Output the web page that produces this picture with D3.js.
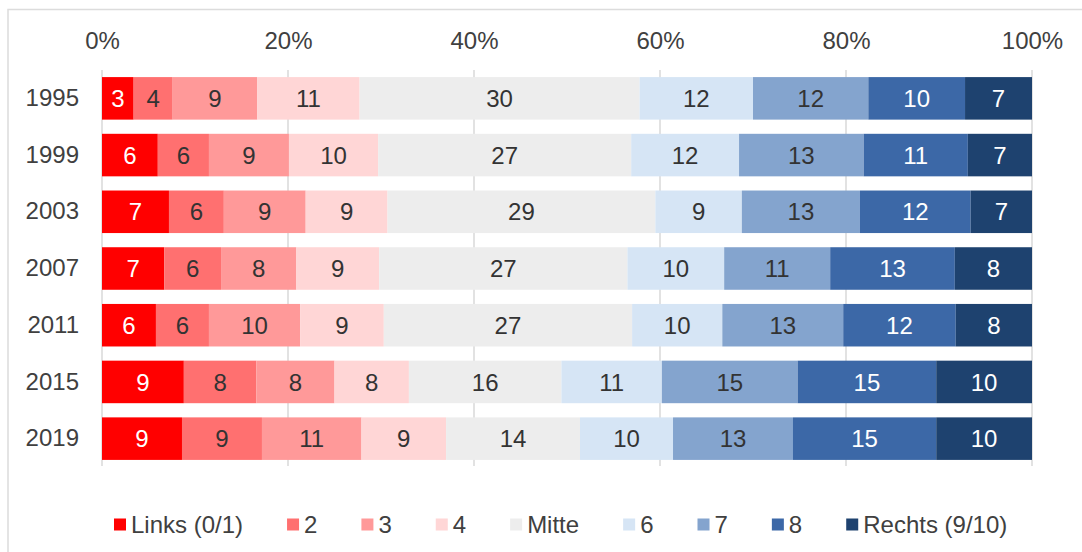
<!DOCTYPE html>
<html>
<head>
<meta charset="utf-8">
<script src="https://cdn.jsdelivr.net/npm/d3@7"></script>
<style>
  html, body { margin: 0; padding: 0; background: #fff; }
  svg { display: block; }
</style>
</head>
<body>
<svg id="chart" width="1082" height="552"></svg>
<script>
// categories (left to right in each bar)
const categories = ['Links (0/1)', '2', '3', '4', 'Mitte', '6', '7', '8', 'Rechts (9/10)'];
const years = ['1995', '1999', '2003', '2007', '2011', '2015', '2019'];

// shares in percent (labels are the rounded values)
const v1995 = [3.4, 4.2, 9.1, 11.0, 30.1, 12.2, 12.4, 10.4, 7.2];
const v1999 = [6.0, 5.5, 8.6, 9.6, 27.2, 11.6, 13.4, 11.2, 6.9];
const v2003 = [7.2, 5.9, 8.8, 8.8, 28.8, 9.3, 12.7, 11.9, 6.6];
const v2007 = [6.7, 6.1, 8.1, 8.9, 26.7, 10.4, 11.4, 13.4, 8.3];
const v2011 = [5.8, 5.7, 9.8, 9.0, 26.7, 9.7, 13.0, 12.1, 8.2];
const v2015 = [8.8, 7.8, 8.4, 8.0, 16.4, 10.8, 14.6, 14.9, 10.3];
const v2019 = [8.6, 8.6, 10.7, 9.1, 14.4, 10.0, 12.9, 15.4, 10.3];
const seriesValues = [v1995, v1999, v2003, v2007, v2011, v2015, v2019];

const tickValues = [0, 20, 40, 60, 80, 100];

const colors = ['#ff0000', '#ff7070', '#ff9999', '#ffd6d6', '#ededed',
                '#d6e5f5', '#84a4ce', '#3c68a7', '#1e426f'];
const lightText = ['Links (0/1)', '8', 'Rechts (9/10)'];

const font = "'Liberation Sans', Arial, Helvetica, sans-serif";
const fontSize = 24;

const svg = d3.select('#chart').attr('font-family', font);

// chart frame (only top and left edge visible in the crop)
svg.append('path')
  .attr('d', 'M8,552 L8,9.5 L1082,9.5')
  .attr('fill', 'none')
  .attr('stroke', '#dcdcdc')
  .attr('stroke-width', 1.5);

const x = d3.scaleLinear().domain([0, 100]).range([102, 1032]);
const y = d3.scaleBand().domain(years).range([70, 467]).paddingInner(0.25).paddingOuter(0.125);

// grid lines
svg.append('g')
  .selectAll('line')
  .data(tickValues)
  .join('line')
  .attr('x1', (d) => x(d))
  .attr('x2', (d) => x(d))
  .attr('y1', 70)
  .attr('y2', 466)
  .attr('stroke', '#d9d9d9')
  .attr('stroke-width', 1.5);

// top axis labels
const axis = svg.append('g')
  .attr('transform', 'translate(0,35)')
  .call(d3.axisTop(x).tickValues(tickValues).tickFormat((d) => d + '%').tickSize(0));
axis.select('.domain').remove();
axis.selectAll('text')
  .attr('font-family', font)
  .attr('font-size', fontSize)
  .attr('fill', '#404040')
  .attr('dy', '0.7em');

// year labels
const yAxis = svg.append('g')
  .attr('transform', 'translate(79,0)')
  .call(d3.axisLeft(y).tickSize(0).tickPadding(0));
yAxis.select('.domain').remove();
yAxis.selectAll('text')
  .attr('font-family', font)
  .attr('font-size', fontSize)
  .attr('fill', '#404040');

// stack the rows
const table = years.map((year, i) => {
  const row = { year };
  categories.forEach((c, j) => { row[c] = seriesValues[i][j]; });
  return row;
});
const stack = d3.stack().keys(categories)(table);

const layers = svg.append('g')
  .selectAll('g')
  .data(stack)
  .join('g')
  .attr('fill', (d, i) => colors[i]);

layers.selectAll('rect')
  .data((d) => d)
  .join('rect')
  .attr('x', (d) => x(d[0]))
  .attr('width', (d) => x(d[1]) - x(d[0]))
  .attr('y', (d) => y(d.data.year))
  .attr('height', y.bandwidth());

layers.selectAll('text')
  .data((d) => d.map((p) => ({ p, key: d.key })))
  .join('text')
  .attr('x', (d) => (x(d.p[0]) + x(d.p[1])) / 2)
  .attr('y', (d) => y(d.p.data.year) + y.bandwidth() / 2)
  .attr('dy', '0.36em')
  .attr('text-anchor', 'middle')
  .attr('font-size', fontSize)
  .attr('fill', (d) => (lightText.includes(d.key) ? '#ffffff' : '#333333'))
  .text((d) => Math.round(d.p.data[d.key]));

// legend
const legend = svg.append('g').attr('transform', 'translate(0,524)');
let lx = 114;
categories.forEach((c, i) => {
  legend.append('rect')
    .attr('x', lx)
    .attr('y', -5.5)
    .attr('width', 12)
    .attr('height', 12)
    .attr('fill', colors[i]);
  const t = legend.append('text')
    .attr('x', lx + 17)
    .attr('dy', '0.36em')
    .attr('font-size', fontSize)
    .attr('fill', '#404040')
    .text(c);
  lx += 17 + t.node().getComputedTextLength() + 44;
});
</script>
</body>
</html>
